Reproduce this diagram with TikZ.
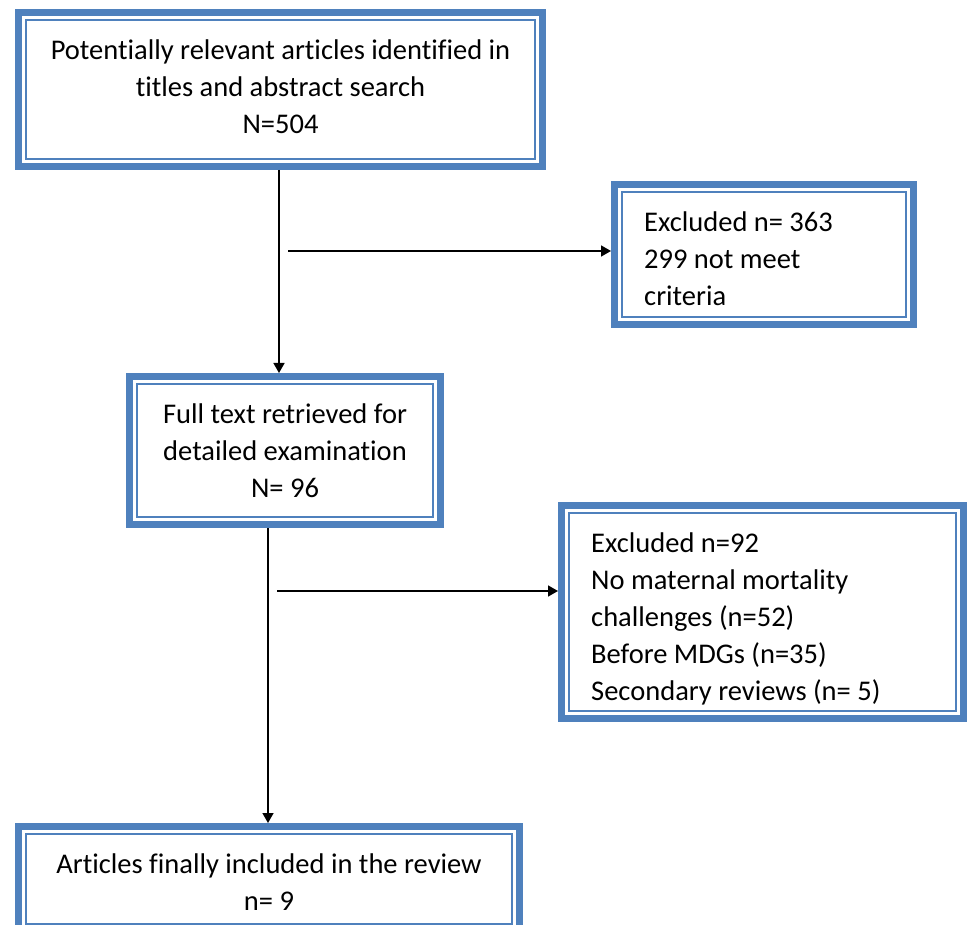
\documentclass[tikz,border=0pt]{standalone}
\usepackage{fontspec}
\setmainfont[Ligatures=NoCommon]{Carlito}
\usetikzlibrary{arrows.meta}
\definecolor{frameblue}{HTML}{4F81BD}
\newcommand\wordframe[1]{%
  \draw[thickb] ([xshift=3.5pt,yshift=-3.5pt]#1.north west) rectangle ([xshift=-3.5pt,yshift=3.5pt]#1.south east);
  \draw[thinb] ([xshift=11pt,yshift=-11pt]#1.north west) rectangle ([xshift=-11pt,yshift=11pt]#1.south east);}
\begin{document}
\begin{tikzpicture}[x=1pt,y=-1pt,
  frame/.style={draw=none, inner sep=0pt, outer sep=0pt},
  txtc/.style={inner sep=0pt, align=center, font=\fontsize{28.5}{37}\selectfont},
  txtl/.style={inner sep=0pt, anchor=west, align=left, font=\fontsize{28.5}{37}\selectfont},
  arr/.style={line width=1.6pt, -{Triangle[length=10pt,width=11pt]}},
  thickb/.style={draw=frameblue, line width=7pt},
  thinb/.style={draw=frameblue, line width=1.6pt}]
\useasboundingbox (0,0) rectangle (967,925);
\node[frame, minimum width=531pt, minimum height=161pt] (b1) at (280.5,89.5) {};
\node[frame, minimum width=306pt, minimum height=147pt] (b2) at (764,254.5) {};
\node[frame, minimum width=318pt, minimum height=155pt] (b3) at (285,450.5) {};
\node[frame, minimum width=409pt, minimum height=220pt] (b4) at (762.5,612) {};
\node[frame, minimum width=508pt, minimum height=112pt] (b5) at (269,879) {};
\wordframe{b1}
\wordframe{b2}
\wordframe{b3}
\wordframe{b4}
\wordframe{b5}
\node[txtc] (t1) at ([yshift=3pt]b1.center)
  {Potentially relevant articles identified in\\ titles and abstract search\\ N=504};
\node[txtl] (t2) at ([xshift=33pt,yshift=-4pt]b2.west)
  {Excluded n= 363\\ 299 not meet\\ criteria};
\node[txtc] (t3) at (b3.center)
  {Full text retrieved for\\ detailed examination\\ N= 96};
\node[txtl] (t4) at ([xshift=33pt,yshift=-7pt]b4.west)
  {Excluded n=92\\ No maternal mortality\\ challenges (n=52)\\ Before MDGs (n=35)\\ Secondary reviews (n= 5)};
\node[txtc] (t5) at ([yshift=-3pt]b5.center)
  {Articles finally included in the review\\ n= 9};
\coordinate (v1) at (279,0);
\coordinate (h1) at (288,251);
\coordinate (v2) at (268,0);
\coordinate (h2) at (277,591);
\draw[arr] (b1.south -| v1) -- (b3.north -| v1);
\draw[arr] (h1) -- (h1 -| b2.west);
\draw[arr] (b3.south -| v2) -- (b5.north -| v2);
\draw[arr] (h2) -- (h2 -| b4.west);
\end{tikzpicture}
\end{document}
